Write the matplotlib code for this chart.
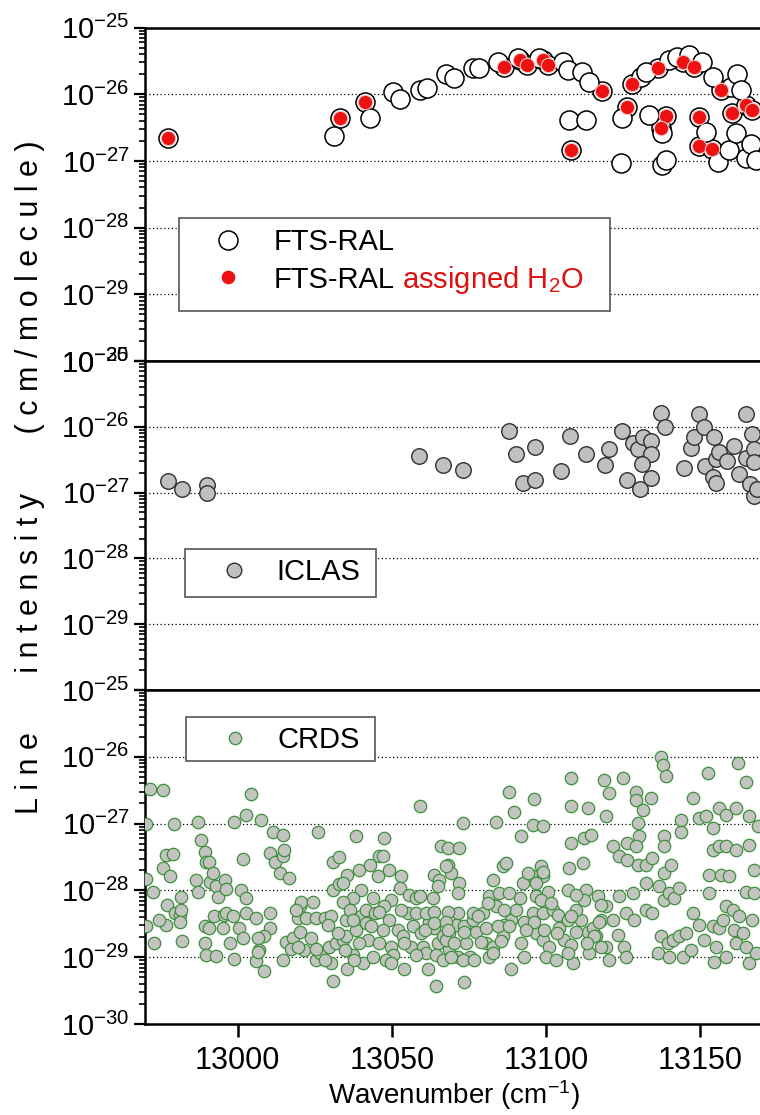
import numpy as np
import matplotlib
matplotlib.use("Agg")
import matplotlib.pyplot as plt
from matplotlib.lines import Line2D
from matplotlib.patches import Rectangle
from matplotlib.ticker import LogLocator, NullFormatter
from matplotlib.transforms import IdentityTransform

plt.rcParams['font.family'] = ['Liberation Sans', 'DejaVu Sans']
plt.rcParams['mathtext.fontset'] = 'custom'
plt.rcParams['mathtext.rm'] = 'Liberation Sans'
plt.rcParams['mathtext.it'] = 'Liberation Sans:italic'
plt.rcParams['mathtext.bf'] = 'Liberation Sans:bold'

# ---- data (wavenumber in cm-1, log10 of line intensity in cm/molecule) ----
# FTS-RAL, all lines (open circles)
fts_wn = [12977.4, 13033.3, 13041.4, 13086.3, 13091.4, 13093.7, 13098.9, 13100.5,
          13118.0, 13108.1, 13126.4, 13128.0, 13136.2, 13138.9, 13137.3, 13144.5,
          13148.0, 13156.7, 13149.7, 13149.7, 13153.8, 13160.2, 13164.8, 13166.9,
          13031.4, 13042.8, 13050.5, 13052.5, 13059.0, 13061.3, 13067.6, 13070.3,
          13076.2, 13078.2, 13084.3, 13090.8, 13097.8, 13105.4, 13107.0, 13111.6,
          13114.0, 13107.5, 13113.0, 13124.3, 13124.6, 13130.8, 13132.4, 13133.5,
          13137.6, 13137.6, 13138.9, 13139.9, 13142.6, 13146.4, 13150.7, 13154.0,
          13160.0, 13151.8, 13155.6, 13159.4, 13161.5, 13164.8, 13162.0, 13163.1,
          13166.5, 13168.0]
fts_logS = [-26.66, -26.36, -26.11, -25.59, -25.49, -25.56, -25.49, -25.56,
            -25.95, -26.83, -26.19, -25.85, -25.61, -26.32, -26.51, -25.51,
            -25.59, -25.94, -26.34, -26.77, -26.82, -26.28, -26.16, -26.24,
            -26.63, -26.36, -25.96, -26.07, -25.94, -25.90, -25.69, -25.76,
            -25.61, -25.61, -25.51, -25.46, -25.46, -25.51, -25.64, -25.66,
            -25.81, -26.38, -26.38, -27.03, -26.36, -25.74, -25.66, -26.31,
            -26.58, -27.06, -26.98, -25.49, -25.44, -25.41, -25.51, -25.74,
            -25.89, -26.56, -27.01, -26.83, -26.58, -26.96, -25.69, -25.94,
            -26.75, -26.98]

# FTS-RAL lines assigned to H2O (red)
h2o_wn = [12977.4, 13033.3, 13041.4, 13086.3, 13091.4, 13093.7, 13098.9, 13100.5,
          13118.0, 13108.1, 13126.4, 13128.0, 13136.2, 13138.9, 13137.3, 13144.5,
          13148.0, 13156.7, 13149.7, 13149.7, 13153.8, 13160.2, 13164.8, 13166.9]
h2o_logS = [-26.66, -26.36, -26.11, -25.59, -25.49, -25.56, -25.49, -25.56,
            -25.95, -26.83, -26.19, -25.85, -25.61, -26.32, -26.51, -25.51,
            -25.59, -25.94, -26.34, -26.77, -26.82, -26.28, -26.16, -26.24]

# ICLAS
iclas_wn = [12977.6, 12982.0, 12990.1, 12990.2, 13058.7, 13066.5, 13073.0, 13088.1,
            13090.1, 13096.5, 13092.4, 13096.5, 13104.9, 13107.8, 13113.0, 13119.2,
            13120.5, 13124.5, 13126.4, 13130.4, 13134.0, 13128.1, 13129.7, 13131.3,
            13134.0, 13134.0, 13131.0, 13137.3, 13138.6, 13144.8, 13147.0, 13148.0,
            13149.7, 13151.3, 13151.6, 13154.0, 13155.1, 13154.5, 13155.1, 13156.1,
            13158.8, 13161.0, 13162.6, 13164.8, 13164.8, 13166.9, 13167.5, 13167.5,
            13166.1, 13167.5, 13168.5]
iclas_logS = [-26.83, -26.94, -26.88, -27.01, -26.45, -26.58, -26.65, -26.07,
              -26.41, -26.30, -26.85, -26.81, -26.67, -26.14, -26.42, -26.58,
              -26.33, -26.06, -26.81, -26.95, -26.78, -26.24, -26.33, -26.16,
              -26.21, -26.42, -26.56, -25.79, -26.00, -26.63, -26.32, -26.15,
              -25.81, -26.00, -26.59, -26.76, -26.86, -26.16, -26.49, -26.39,
              -26.52, -26.29, -26.72, -25.81, -26.47, -26.11, -26.34, -26.54,
              -26.87, -27.05, -26.95]

# CRDS
crds_wn = [12971.7, 12975.8, 13004.2, 12970.4, 12979.3, 12987.2, 12999.0, 13002.8,
           13007.7, 13011.4, 13014.7, 13026.0, 13038.4, 12988.2, 12989.6, 12989.8,
           12990.7, 12976.9, 12979.1, 12975.8, 12978.2, 13001.7, 13010.4, 13012.0,
           13014.7, 13015.2, 13013.6, 13016.6, 13030.9, 13032.8, 12970.4, 12972.6,
           12986.6, 12991.1, 12993.1, 12995.8, 12993.6, 12981.8, 12977.2, 12979.8,
           12981.2, 12981.8, 12987.2, 13001.2, 13002.8, 12976.9, 12974.5, 12970.4,
           12972.8, 12982.1, 12992.5, 12995.5, 12996.3, 12989.3, 12990.9, 12989.6,
           12989.8, 12993.1, 12999.0, 12997.4, 13000.6, 13001.7, 13002.8, 13006.0,
           13010.4, 13010.4, 13008.7, 13006.6, 13007.1, 13006.0, 13008.7, 13015.8,
           13017.9, 13020.1, 13020.6, 13024.4, 13019.5, 13022.2, 13025.5, 13028.2,
           13030.3, 13020.1, 13021.7, 13023.9, 13025.5, 13026.6, 13029.8, 13030.3,
           13030.9, 13032.0, 13034.1, 13035.2, 13035.2, 13035.4, 13037.4, 13038.4,
           13040.1, 13041.7, 13040.6, 13042.2, 13043.8, 13030.9, 13033.0, 13035.4,
           13039.5, 13040.1, 13037.4, 13034.1, 13036.3, 13043.0, 13045.8, 13045.5,
           13044.7,
           13047.6, 13047.1, 13049.2, 13053.0, 13052.5, 13049.8, 13047.6, 13049.2,
           13051.9, 13053.6, 13049.8, 13050.3, 13054.1, 13059.0, 13055.7, 13057.9,
           13055.2, 13057.9, 13056.8, 13059.5, 13056.3, 13060.0, 13063.8, 13065.4,
           13064.9, 13063.3, 13066.0, 13068.1, 13071.9, 13068.1, 13069.2, 13071.9,
           13071.4, 13062.2, 13063.8, 13064.9, 13066.5, 13068.7, 13061.1, 13064.4,
           13066.5, 13061.7, 13064.4, 13073.5, 13073.0, 13071.4, 13070.8, 13073.5,
           13068.7, 13071.4, 13075.2, 13074.1, 13077.3, 13079.5, 13076.2, 13080.6,
           13081.6, 13081.6, 13083.8, 13082.7, 13083.8, 13086.0, 13088.1, 13089.7,
           13096.2, 13095.7, 13098.9, 13091.9, 13087.0, 13088.7, 13086.5, 13086.0,
           13088.7, 13090.3, 13091.4, 13092.4, 13095.7, 13094.1, 13098.4, 13098.9,
           13100.5, 13096.8, 13095.7, 13094.1, 13098.9, 13102.1, 13103.8, 13096.8,
           13098.9, 13101.1, 13100.0, 13103.2, 13105.9, 13104.3, 13107.0, 13108.1,
           13108.6, 13111.3, 13113.5, 13115.1, 13114.0, 13108.1, 13108.1, 13113.5,
           13108.1, 13112.4, 13114.6, 13107.6, 13111.9, 13107.0, 13112.9, 13112.4,
           13109.7, 13116.7, 13119.4, 13117.8, 13116.2, 13119.4, 13120.5, 13121.6,
           13123.2, 13125.4, 13125.9, 13119.4, 13118.9, 13120.5, 13124.8, 13121.6,
           13123.7, 13126.4, 13129.1, 13129.1, 13131.3, 13129.7, 13130.2, 13129.1,
           13126.4, 13129.7, 13132.4, 13134.5, 13138.3, 13138.3, 13138.3, 13140.5,
           13134.0, 13137.2, 13137.8, 13138.9, 13132.4, 13128.1, 13123.7, 13125.9,
           13128.6, 13132.4, 13134.5, 13136.7, 13138.3, 13139.9, 13141.5, 13143.2,
           13137.2, 13139.4, 13141.0, 13143.2, 13145.3, 13136.2, 13139.9, 13144.3,
           13147.0, 13147.5, 13143.7, 13143.7, 13149.7, 13151.8, 13152.4, 13154.0,
           13154.0, 13156.1, 13158.3, 13152.9, 13156.7, 13159.4, 13152.9, 13147.5,
           13149.7, 13154.0, 13151.3, 13156.1, 13155.1, 13157.2, 13158.3, 13160.5,
           13162.6, 13161.0, 13163.7, 13161.5, 13164.8, 13154.5, 13165.9, 13158.3,
           13156.1, 13158.3, 13161.5, 13162.1, 13164.8, 13165.9, 13161.5, 13165.9,
           13167.5, 13164.8, 13166.9, 13167.5, 13168.0, 13168.6,
           12992.0, 12996.3, 12981.2, 12998.5, 13019.0, 12995.2, 13017.4, 13006.6,
           13014.7, 13019.5, 13067.6, 13034.1, 13043.8, 13059.0, 13029.3, 13037.4,
           13046.0, 13053.0, 13061.1, 13063.8, 13068.1, 13032.5, 13041.7, 13043.3,
           13047.1, 13060.6, 13063.8, 13067.6, 13025.5, 13034.7, 13039.5, 13046.0,
           13054.1, 13067.6, 13028.2, 13037.9, 13048.2, 13049.8, 13057.9, 13098.9,
           13096.8, 13084.9, 13088.1, 13109.6, 13117.7, 13076.2, 13077.9, 13081.1,
           13086.5, 13093.0, 13096.2, 13098.4, 13101.6, 13108.0, 13117.2, 13068.1,
           13073.5, 13080.6, 13084.3, 13088.1, 13093.5, 13099.4, 13103.7, 13109.6,
           13115.6, 13070.3, 13078.9, 13082.7, 13085.4, 13091.9, 13113.4, 13117.7,
           13069.2, 13073.0, 13076.8, 13082.7, 13093.0, 13107.0]
crds_logS = [-26.48, -26.49, -26.55, -27.00, -27.00, -26.97, -26.97, -26.87,
             -26.94, -27.12, -27.17, -27.13, -27.19, -27.24, -27.42, -27.58,
             -27.57, -27.47, -27.45, -27.67, -27.79, -27.53, -27.44, -27.57,
             -27.49, -27.39, -27.74, -27.82, -27.57, -27.50, -27.83, -28.02,
             -27.84, -27.88, -27.94, -27.84, -28.10, -28.10, -28.22, -28.34,
             -28.37, -28.29, -28.03, -27.99, -28.12, -28.52, -28.44, -28.54,
             -28.79, -28.75, -28.39, -28.37, -28.34, -28.54, -28.57, -28.79,
             -28.97, -28.98, -29.02, -28.79, -28.57, -28.71, -28.34, -28.41,
             -28.34, -28.57, -28.69, -28.72, -28.89, -29.06, -29.21, -28.77,
             -28.72, -28.24, -28.17, -28.17, -28.42, -28.42, -28.42, -28.42,
             -28.39, -28.62, -28.89, -28.72, -29.04, -28.94, -28.84, -29.09,
             -29.36, -28.79, -28.74, -28.44, -28.69, -29.18, -28.97, -28.59,
             -28.39, -28.29, -29.09, -28.74, -28.99, -27.99, -27.90, -27.77,
             -27.69, -27.99, -28.12, -28.17, -28.29, -27.62, -27.49, -27.79,
             -28.34,
             -27.22, -27.49, -27.69, -27.79, -27.97, -28.14, -28.24, -28.44,
             -28.59, -28.69, -28.84, -28.97, -29.17, -26.74, -28.07, -28.12,
             -28.34, -28.34, -28.54, -28.64, -28.84, -28.84, -27.77, -27.84,
             -27.94, -28.12, -27.34, -27.37, -27.37, -27.62, -27.74, -27.89,
             -28.04, -28.47, -28.57, -28.79, -28.69, -28.64, -28.94, -28.97,
             -29.04, -29.17, -29.43, -29.37, -26.99, -28.34, -28.52, -28.54,
             -28.87, -28.99, -28.99, -28.79, -28.62, -28.34, -28.44, -28.79,
             -28.99, -28.09, -28.24, -27.84, -26.97, -27.64, -26.52, -26.82,
             -26.63, -27.02, -27.04, -27.19, -27.59, -28.44, -28.52, -28.69,
             -29.17, -28.29, -28.12, -27.89, -27.79, -27.74, -27.64, -27.79,
             -28.02, -28.09, -28.34, -28.54, -28.34, -28.29, -28.37, -28.64,
             -28.74, -28.84, -28.99, -29.04, -28.74, -28.57, -28.44, -28.82,
             -29.09, -28.44, -28.62, -28.57, -28.94, -26.32, -26.74, -26.77,
             -27.29, -27.22, -27.17, -27.67, -27.59, -27.99, -27.99, -28.14,
             -28.29, -28.09, -28.24, -28.44, -28.69, -28.84, -29.04, -28.44,
             -28.67, -28.84, -28.99, -26.89, -26.34, -26.54, -26.32, -27.34,
             -27.49, -27.29, -26.52, -26.64, -26.79, -26.99, -27.19, -27.34,
             -27.54, -27.62, -27.62, -27.52, -27.19, -27.34, -27.74, -27.62,
             -26.62, -26.00, -26.12, -26.29, -27.89, -28.04, -28.09, -28.34,
             -28.44, -28.29, -28.34, -27.94, -28.14, -28.04, -28.12, -27.97,
             -28.69, -28.79, -28.74, -28.69, -28.64, -28.94, -28.99, -28.99,
             -28.89, -26.62, -26.94, -27.12, -26.92, -26.89, -26.24, -27.07,
             -27.39, -27.34, -27.34, -27.77, -27.77, -27.79, -28.04, -28.34,
             -28.52, -28.54, -28.74, -28.57, -28.84, -28.44, -28.24, -28.29,
             -28.39, -28.59, -28.64, -28.79, -28.84, -29.07, -29.09, -28.99,
             -26.77, -26.87, -26.77, -26.09, -26.37, -26.89, -27.39, -27.32,
             -27.69, -28.02, -28.44, -28.04, -28.94, -27.04,
             -27.74, -27.98, -28.47, -28.39, -28.29, -28.57, -28.87, -28.92,
             -29.04, -28.84, -27.64, -27.89, -28.12, -28.09, -28.52, -28.44,
             -28.32, -28.29, -28.34, -28.32, -28.32, -28.64, -28.49, -28.54,
             -28.59, -28.59, -28.49, -28.47, -28.87, -28.89, -28.79, -28.79,
             -28.79, -28.74, -29.04, -29.04, -29.04, -29.09, -28.97, -27.72,
             -27.89, -28.04, -28.04, -28.07, -28.22, -28.34, -28.39, -28.19,
             -28.29, -28.47, -28.47, -28.14, -28.19, -28.39, -28.47, -28.59,
             -28.62, -28.57, -28.54, -28.54, -28.59, -28.59, -28.64, -28.62,
             -28.69, -28.79, -28.77, -28.84, -28.75, -28.79, -28.79, -28.84,
             -28.99, -29.04, -29.04, -28.94, -28.99, -28.94]

decades = [1e-30, 1e-29, 1e-28, 1e-27, 1e-26, 1e-25]
decade_labels = [r'$\mathregular{10^{-%d}}$' % e for e in [30, 29, 28, 27, 26, 25]]
x_ticks = [13000, 13050, 13100, 13150]

# ---- figure ----
W, H = 760, 1115
fig = plt.figure(figsize=(W / 100, H / 100), dpi=100)

left = 145 / W
width = 617 / W
panels = [(27.5, 361), (361, 690), (690, 1024)]  # top, bottom in pixels
axes = []
for top, bot in panels:
    ax = fig.add_axes([left, 1 - bot / H, width, (bot - top) / H])
    axes.append(ax)

for i, ax in enumerate(axes):
    ax.set_yscale('log')
    ax.set_ylim(1e-30, 1e-25)
    ax.set_xlim(12970, 13170)
    ax.set_yticks(decades)
    labels = list(decade_labels)
    if i == 1:
        labels[0] = ''
    ax.set_yticklabels(labels)
    ax.yaxis.set_minor_locator(LogLocator(base=10, subs=np.arange(2, 10), numticks=20))
    ax.yaxis.set_minor_formatter(NullFormatter())
    ax.tick_params(axis='y', which='major', direction='out', length=8, width=1.6,
                   labelsize=21, pad=3)
    ax.tick_params(axis='y', which='minor', direction='out', length=4.5, width=1.2)
    ax.grid(axis='y', which='major', linestyle=(0, (1, 2)), color='black', linewidth=0.9)
    ax.set_axisbelow(True)
    for s in ['top', 'left', 'bottom', 'right']:
        ax.spines[s].set_linewidth(1.8)
    if i < 2:
        ax.tick_params(axis='x', which='both', bottom=False, labelbottom=False)
    else:
        ax.set_xticks(x_ticks)
        ax.set_xticklabels([str(t) for t in x_ticks])
        ax.tick_params(axis='x', which='major', direction='out', length=9.5, width=1.8,
                       labelsize=22, pad=6)
        ax.tick_params(axis='x', which='minor', bottom=False)
        ax.set_xlabel('Wavenumber (cm$^{-1}$)', fontsize=20, labelpad=2)

ax1, ax2, ax3 = axes

ax1.scatter(fts_wn, 10.0 ** np.array(fts_logS), s=188, facecolor='white',
            edgecolor='black', linewidth=1.1, zorder=3)
ax1.scatter(h2o_wn, 10.0 ** np.array(h2o_logS), s=106, facecolor='#ee1111',
            edgecolor='#f0c4c4', linewidth=0.8, zorder=4)
ax2.scatter(iclas_wn, 10.0 ** np.array(iclas_logS), s=125, facecolor='#c0c0c0',
            edgecolor='#303030', linewidth=1.0, zorder=3)
ax3.scatter(crds_wn, 10.0 ** np.array(crds_logS), s=80, facecolor='#c3c4c0',
            edgecolor='#3d8f3d', linewidth=0.9, zorder=3)

# ---- legends (frames drawn as plain boxes) ----
leg_kw = dict(loc='upper left', bbox_transform=fig.transFigure, borderaxespad=0,
              frameon=False, fontsize=21, borderpad=0.3, handlelength=2.78,
              handletextpad=0.06, labelspacing=0.15)


def legend_box(ax, x0, y0, x1, y1):
    r = Rectangle((x0 / W, 1 - y1 / H), (x1 - x0) / W, (y1 - y0) / H,
                  transform=fig.transFigure, facecolor='white', edgecolor='#555555',
                  linewidth=1.2, zorder=4.5, clip_on=False)
    ax.add_patch(r)


h_open = Line2D([], [], marker='o', linestyle='none', markersize=13.7,
                markerfacecolor='white', markeredgecolor='black', markeredgewidth=1.1)
h_red = Line2D([], [], marker='o', linestyle='none', markersize=8.8,
               markerfacecolor='#ee1111', markeredgecolor='#ee1111')
kw1 = dict(leg_kw, labelspacing=0.25, handletextpad=0.16)
leg1 = ax1.legend([h_open, h_red], ['FTS-RAL', 'FTS-RAL assigned H$_2$O'],
                  bbox_to_anchor=(179 / W, 1 - 219.5 / H), **kw1)
leg1.get_texts()[1].set_alpha(0)
legend_box(ax1, 179, 218, 610, 311)

h_iclas = Line2D([], [], marker='o', linestyle='none', markersize=10.5,
                 markerfacecolor='#c0c0c0', markeredgecolor='#303030', markeredgewidth=1.0)
leg2 = ax2.legend([h_iclas], ['ICLAS'], bbox_to_anchor=(185 / W, 1 - 549 / H), **leg_kw)
legend_box(ax2, 185, 549, 376, 597)

h_crds = Line2D([], [], marker='o', linestyle='none', markersize=8.9,
                markerfacecolor='#c3c4c0', markeredgecolor='#3d8f3d', markeredgewidth=0.9)
leg3 = ax3.legend([h_crds], ['CRDS'], bbox_to_anchor=(186 / W, 1 - 717 / H), **leg_kw)
legend_box(ax3, 186, 717, 375, 761)

# y label, letter spaced
fig.text(30 / W, 1 - 477 / H,
         'L i n e       i n t e n s i t y       ( c m / m o l e c u l e )',
         rotation=90, ha='center', va='center', fontsize=22)

# second legend entry: black "FTS-RAL" followed by red "assigned H2O"
fig.canvas.draw()
renderer = fig.canvas.get_renderer()
hidden = leg1.get_texts()[1]
bx, by = hidden.get_transform().transform((0, 0))
black = fig.text(bx, by, 'FTS-RAL', transform=IdentityTransform(), fontsize=21,
                 ha='left', va='baseline', color='black', zorder=10)
fig.canvas.draw()
bb = black.get_window_extent(renderer)
fig.text(bb.x1, by, ' assigned H$_2$O', transform=IdentityTransform(), fontsize=21,
         ha='left', va='baseline', color='#dd1111', zorder=10)

fig.savefig('out.png', dpi=100)
